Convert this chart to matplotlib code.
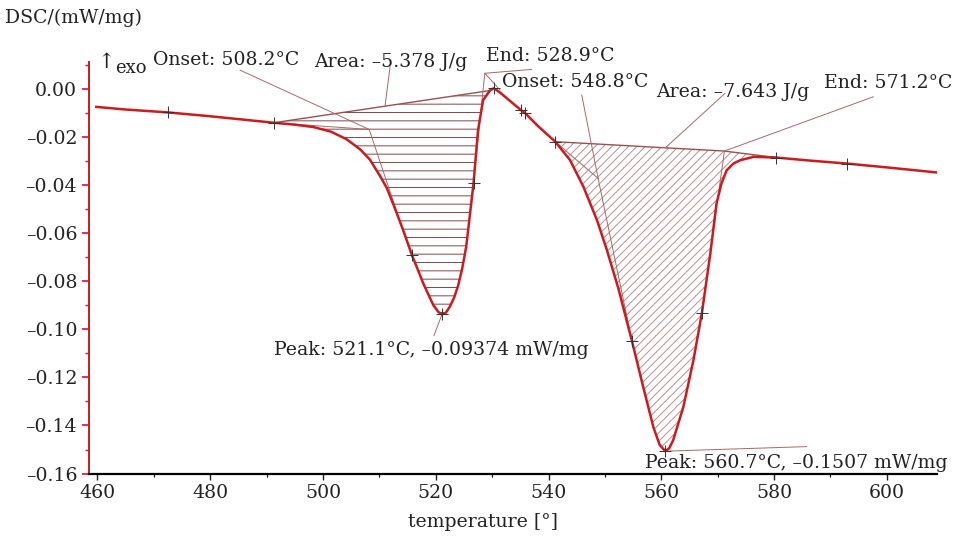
import matplotlib.pyplot as plt
from matplotlib.ticker import MultipleLocator
import numpy as np

# DSC curve
temp = [459.8, 465.0, 472.5, 480.0, 485.0, 491.3, 495.0, 498.3, 501.4, 504.2,
        506.6, 508.3, 510.1, 511.3, 512.5, 514.2, 515.8, 517.8, 518.8, 519.6, 520.5,
        521.1, 521.8, 522.5, 523.3, 524.0, 524.7, 525.4, 526.7, 527.5, 528.4, 529.6, 530.3,
        531.5, 533.0, 535.2, 535.9, 538.0, 541.2, 543.8, 546.2, 548.6, 550.3,
        552.4, 554.8, 556.8, 558.6, 559.7, 560.7, 561.4, 562.1, 563.9, 565.7,
        567.2, 568.7, 569.8, 570.7, 571.6, 572.8, 574.0, 576.4, 580.4, 586.0,
        592.9, 600.0, 608.8]
dsc = [-0.0073, -0.0084, -0.0096, -0.0112, -0.0124, -0.0139, -0.0147, -0.0157, -0.0176, -0.0208,
       -0.0250, -0.0292, -0.0360, -0.0410, -0.0480, -0.0585, -0.0691, -0.0809, -0.0860, -0.0900, -0.0928,
       -0.09374, -0.0930, -0.0905, -0.0865, -0.0815, -0.0745, -0.0656, -0.0392, -0.0170, -0.0045, -0.0005, 0.0005,
       -0.0015, -0.0045, -0.0088, -0.0100, -0.0150, -0.0218, -0.0294, -0.0406, -0.0545, -0.0665,
       -0.0830, -0.1048, -0.1240, -0.1407, -0.1480, -0.1507, -0.1495, -0.1462, -0.1324, -0.1129,
       -0.0932, -0.0684, -0.0475, -0.0390, -0.0337, -0.0309, -0.0295, -0.0281, -0.0284, -0.0296,
       -0.0309, -0.0325, -0.0346]

# "+" marks on the curve
mark_t = [472.5, 491.3, 515.8, 521.1, 526.7, 530.3, 535.2, 535.9, 541.2, 554.8, 560.7, 567.2, 580.4, 592.9]
mark_v = [-0.0096, -0.0139, -0.0691, -0.09374, -0.0392, 0.0005, -0.0088, -0.0100, -0.0218, -0.1048,
          -0.1507, -0.0932, -0.0284, -0.0309]

# integration baselines
base1_t = [491.3, 529.6]
base1_v = [-0.0139, -0.0005]
base2_t = [541.2, 571.2, 580.4]
base2_v = [-0.0218, -0.0257, -0.0284]

# evaluation construction lines (tangents and leaders)
constr = [
    ([491.3, 508.2, 515.8], [-0.0139, -0.0167, -0.0700]),   # onset 1
    ([485.3, 508.2], [0.0080, -0.0167]),                    # onset 1 leader
    ([511.9, 511.0], [0.0094, -0.0070]),                    # area 1 leader
    ([526.7, 528.7, 531.4], [-0.0392, 0.0067, -0.0003]),    # end 1
    ([528.7, 537.0], [0.0067, 0.0083]),                     # end 1 leader
    ([521.1, 519.7], [-0.09374, -0.1025]),                  # peak 1 leader
    ([541.2, 548.8], [-0.0218, -0.0371]),                   # onset 2
    ([545.9, 548.8, 554.8], [-0.0024, -0.0371, -0.1048]),   # onset 2 tangent + leader
    ([571.3, 560.7], [-0.0017, -0.0244]),                   # area 2 leader
    ([567.2, 571.2, 597.6], [-0.0932, -0.0257, -0.0031]),   # end 2
    ([560.7, 585.8], [-0.1507, -0.1488]),                   # peak 2 leader
]

labels = [
    ("Onset: 508.2°C", 482.9, 0.0122),
    ("Area: \u20135.378 J/g", 512.0, 0.0114),
    ("End: 528.9°C", 540.3, 0.0139),
    ("Onset: 548.8°C", 544.7, 0.0030),
    ("Area: \u20137.643 J/g", 572.6, -0.0012),
    ("End: 571.2°C", 600.2, 0.0026),
    ("Peak: 521.1°C, \u20130.09374 mW/mg", 519.3, -0.1087),
    ("Peak: 560.7°C, \u20130.1507 mW/mg", 583.9, -0.1558),
]

plt.rcParams['font.family'] = ['DejaVu Serif']
plt.rcParams['hatch.linewidth'] = 0.7
fs = 13.6
fig = plt.figure(figsize=(9.61, 5.39), dpi=100)
ax = fig.add_axes([0.0926, 0.1206, 0.8824, 0.7644])

t = np.array(temp)
v = np.array(dsc)
red = '#cc1a1f'
thin = '#a86868'

# hatched peak areas
m1 = (t >= base1_t[0]) & (t <= base1_t[-1])
ax.fill_between(t[m1], v[m1], np.interp(t[m1], base1_t, base1_v),
                facecolor='none', edgecolor='#7a4a4a', hatch='--', linewidth=0)
m2 = (t >= base2_t[0]) & (t <= base2_t[-1])
ax.fill_between(t[m2], v[m2], np.interp(t[m2], base2_t, base2_v),
                facecolor='none', edgecolor='#bb9090', hatch='////', linewidth=0)

ax.plot(base1_t, base1_v, color='#9a5050', lw=1.0)
ax.plot(base2_t, base2_v, color='#9a5050', lw=1.0)
for xs, ys in constr:
    ax.plot(xs, ys, color=thin, lw=0.7)

ax.plot(t, v, color=red, lw=1.8, solid_joinstyle='round')
ax.plot(mark_t, mark_v, '+', color='#333333', ms=9, mew=0.7)

for txt, x, y in labels:
    ax.text(x, y, txt, fontsize=fs, ha='center', va='center', color='#222222')

ax.set_xlim(458.5, 608.9)
ax.set_ylim(-0.1602, 0.0114)
ax.xaxis.set_major_locator(MultipleLocator(20))
ax.xaxis.set_minor_locator(MultipleLocator(10))
ax.yaxis.set_major_locator(MultipleLocator(0.02))
ax.yaxis.set_minor_locator(MultipleLocator(0.01))
ax.yaxis.set_major_formatter(lambda val, pos: f"{val:.2f}".replace('-', '\u2013'))

for s in ['top', 'right']:
    ax.spines[s].set_visible(False)
ax.spines['left'].set_color(red)
ax.spines['left'].set_linewidth(1.4)
ax.spines['bottom'].set_linewidth(1.6)
ax.tick_params(axis='y', which='both', colors=red, labelcolor='#222222', labelsize=fs)
ax.tick_params(axis='y', which='major', length=5, width=1.2)
ax.tick_params(axis='y', which='minor', length=3, width=1.0)
ax.tick_params(axis='x', which='major', length=4, width=1.0, labelsize=fs, colors='#222222')
ax.tick_params(axis='x', which='minor', length=2.5, width=0.8)

fig.text(5 / 961, 1 - 18 / 539, "DSC/(mW/mg)", fontsize=fs, ha='left', va='center', color='#222222')
fig.text(106 / 961, 1 - 62 / 539, "\u2191", fontsize=15, ha='center', va='center', color='#222222')
fig.text(131 / 961, 1 - 68 / 539, "exo", fontsize=13, ha='center', va='center', color='#222222')
fig.text(483 / 961, 1 - 522 / 539, "temperature [°]", fontsize=fs, ha='center', va='center', color='#222222')

fig.savefig('out.png', dpi=100)
plt.close(fig)
